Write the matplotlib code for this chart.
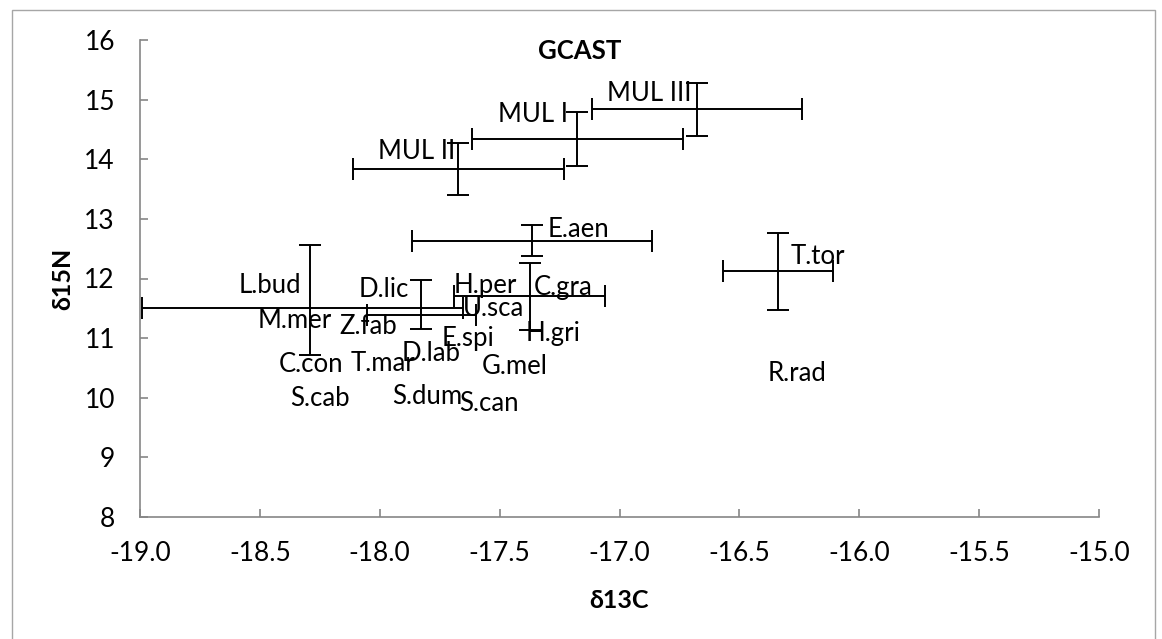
import matplotlib
matplotlib.use("Agg")
import matplotlib.pyplot as plt
from matplotlib.patches import Rectangle

plt.rcParams['font.family'] = ['Lato', 'DejaVu Sans']
plt.rcParams['axes.unicode_minus'] = False

# ---- data ----
title = "GCAST"
x_label = "δ13C"
y_label = "δ15N"

# horizontal (d13C) error bars: centre x, y, half-width
hbar_x = [-16.676, -17.176, -17.673, -17.365, -18.322, -17.826, -17.375, -16.340]
hbar_y = [14.84, 14.34, 13.84, 12.636, 11.50, 11.39, 11.70, 12.12]
hbar_err = [0.438, 0.439, 0.440, 0.500, 0.669, 0.229, 0.315, 0.230]

# vertical (d15N) error bars: x, centre y, half-height
vbar_x = [-16.676, -17.176, -17.673, -17.365, -18.292, -17.826, -17.375, -16.340]
vbar_y = [14.84, 14.34, 13.84, 12.636, 11.64, 11.557, 11.70, 12.12]
vbar_err = [0.445, 0.445, 0.440, 0.266, 0.920, 0.410, 0.565, 0.650]

# species labels and their positions
labels = ["MUL III", "MUL I", "MUL II", "E.aen", "T.tor", "L.bud", "D.lic", "H.per",
          "C.gra", "U.sca", "M.mer", "Z.fab", "E.spi", "H.gri", "C.con", "T.mar",
          "D.lab", "G.mel", "R.rad", "S.cab", "S.dum", "S.can"]
label_x = [-16.875, -17.362, -17.846, -17.169, -16.172, -18.460, -17.981, -17.558,
           -17.237, -17.525, -18.354, -18.050, -17.633, -17.279, -18.288, -17.988,
           -17.785, -17.438, -16.258, -18.250, -17.802, -17.546]
label_y = [15.109, 14.745, 14.129, 12.815, 12.367, 11.881, 11.809, 11.876,
           11.842, 11.490, 11.294, 11.193, 10.998, 11.082, 10.550, 10.579,
           10.735, 10.522, 10.411, 9.980, 10.018, 9.896]

x_ticks = [-19.0, -18.5, -18.0, -17.5, -17.0, -16.5, -16.0, -15.5, -15.0]
y_ticks = [8, 9, 10, 11, 12, 13, 14, 15, 16]

# ---- figure ----
W, H = 1162, 639
fig = plt.figure(figsize=(W / 100, H / 100), dpi=100)
L, R, T, B = 140, 1099, 40, 517
ax = fig.add_axes([L / W, 1 - B / H, (R - L) / W, (B - T) / H])

# chart border
fig.patches.append(Rectangle((12 / W, -0.05), (1155 - 12) / W, 1 - 10 / H + 0.05,
                             transform=fig.transFigure, fill=False,
                             edgecolor='#a6a6a6', linewidth=1.0))

ax.errorbar(hbar_x, hbar_y, xerr=hbar_err, fmt='none', ecolor='black',
            elinewidth=1.4, capsize=8, capthick=1.4, clip_on=False)
ax.errorbar(vbar_x, vbar_y, yerr=vbar_err, fmt='none', ecolor='black',
            elinewidth=1.4, capsize=8, capthick=1.4, clip_on=False)

for t, x, y in zip(labels, label_x, label_y):
    ax.text(x, y, t, ha='center', va='center', fontsize=18.5, color='black')

ax.set_xlim(-19, -15)
ax.set_ylim(8, 16)
ax.set_xticks(x_ticks)
ax.set_xticklabels([f"{v:.1f}" for v in x_ticks])
ax.set_yticks(y_ticks)
ax.set_yticklabels([str(v) for v in y_ticks])

for s in ['top', 'right']:
    ax.spines[s].set_visible(False)
for s in ['left', 'bottom']:
    ax.spines[s].set_color('#868686')
    ax.spines[s].set_linewidth(1.2)

ax.tick_params(axis='both', direction='in', length=6, width=1.2, color='#868686',
               labelsize=19, labelcolor='black')
ax.tick_params(axis='x', pad=17)
ax.tick_params(axis='y', pad=18)

ax.set_xlabel(x_label, fontsize=18, fontweight='bold', va='center')
ax.xaxis.set_label_coords(0.5, (B - 600) / (B - T))
ax.set_ylabel(y_label, fontsize=18, fontweight='bold', va='center')
ax.yaxis.set_label_coords((63 - L) / (R - L), 0.5)

fig.text(580 / W, 1 - 51 / H, title, ha='center', va='center',
         fontsize=18.5, fontweight='bold')

fig.savefig("out.png", dpi=100)
